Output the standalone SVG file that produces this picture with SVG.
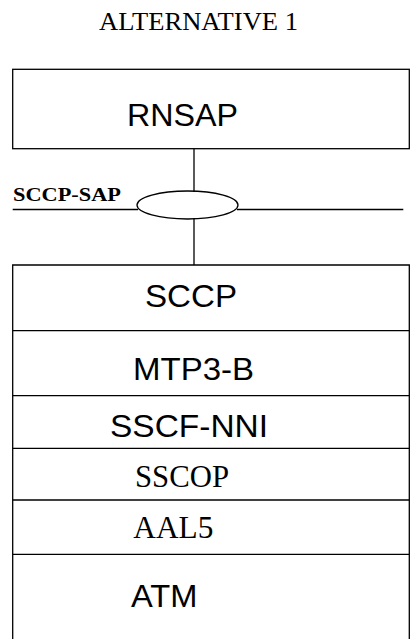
<svg xmlns="http://www.w3.org/2000/svg" width="410" height="639" viewBox="0 0 410 639">
<style>
.ln{stroke:#000;stroke-width:1.3;fill:none}
.sans{font-family:"Liberation Sans",Arial,sans-serif;font-size:32px;fill:#000}
.serif{font-family:"Liberation Serif","Times New Roman",serif;fill:#000}
</style>
<rect width="410" height="639" fill="#fff"/>
<text id="title" class="serif" x="99" y="30" font-size="25" textLength="199" lengthAdjust="spacingAndGlyphs">ALTERNATIVE 1</text>
<g id="rnsap">
<rect class="ln" x="12.7" y="69.3" width="396.6" height="79.4"/>
<text class="sans" x="127" y="126" textLength="111" lengthAdjust="spacingAndGlyphs">RNSAP</text>
</g>
<g id="connectors">
<line class="ln" x1="194" y1="148.7" x2="194" y2="192"/>
<line class="ln" x1="194" y1="218" x2="194" y2="265"/>
<line class="ln" x1="12.7" y1="209.5" x2="138" y2="209.5"/>
<line class="ln" x1="237" y1="209.5" x2="403.3" y2="209.5"/>
</g>
<g id="sccp-sap">
<ellipse class="ln" cx="187.5" cy="205" rx="50.5" ry="14"/>
<text class="serif" x="13" y="200.5" font-size="19" font-weight="bold" textLength="108" lengthAdjust="spacingAndGlyphs">SCCP-SAP</text>
</g>
<g id="stack">
<polyline class="ln" points="12.7,639 12.7,265 409.3,265 409.3,639"/>
<line class="ln" x1="12.7" y1="330.7" x2="409.3" y2="330.7"/>
<line class="ln" x1="12.7" y1="395.7" x2="409.3" y2="395.7"/>
<line class="ln" x1="12.7" y1="448.3" x2="409.3" y2="448.3"/>
<line class="ln" x1="12.7" y1="500" x2="409.3" y2="500"/>
<line class="ln" x1="12.7" y1="554.3" x2="409.3" y2="554.3"/>
</g>
<g id="sccp"><text class="sans" x="145" y="307" textLength="92" lengthAdjust="spacingAndGlyphs">SCCP</text></g>
<g id="mtp3b"><text class="sans" x="133" y="380" textLength="121" lengthAdjust="spacingAndGlyphs">MTP3-B</text></g>
<g id="sscfnni"><text class="sans" x="110" y="436.7" textLength="158" lengthAdjust="spacingAndGlyphs">SSCF-NNI</text></g>
<g id="sscop"><text class="serif" x="135" y="486.7" font-size="31" textLength="94" lengthAdjust="spacingAndGlyphs">SSCOP</text></g>
<g id="aal5"><text class="serif" x="133.3" y="538.3" font-size="31" textLength="80" lengthAdjust="spacingAndGlyphs">AAL5</text></g>
<g id="atm"><text class="sans" x="131" y="606.7" textLength="66.5" lengthAdjust="spacingAndGlyphs">ATM</text></g>
</svg>
